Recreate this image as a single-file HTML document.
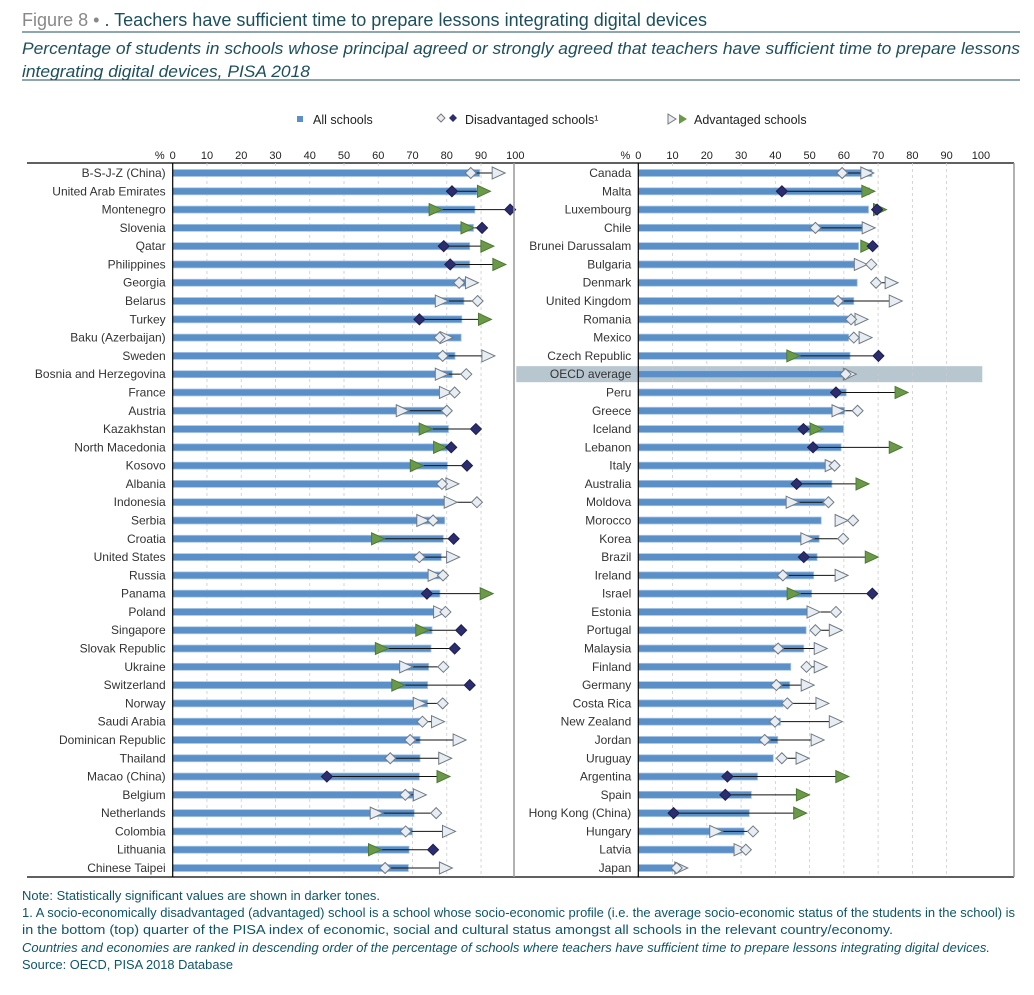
<!DOCTYPE html>
<html><head><meta charset="utf-8">
<style>
body{margin:0;background:#fff;width:1034px;height:990px;overflow:hidden;font-family:"Liberation Sans",sans-serif;}
svg text{font-family:"Liberation Sans",sans-serif;}
</style></head>
<body>
<svg id="chart" width="1034" height="990" xmlns="http://www.w3.org/2000/svg">
<text x="22" y="26" font-size="18" fill="#1d4f5c" textLength="685" lengthAdjust="spacingAndGlyphs"><tspan fill="#888">Figure 8 • </tspan>. Teachers have sufficient time to prepare lessons integrating digital devices</text>
<line x1="22" y1="32" x2="1020" y2="32" stroke="#1d4f5c" stroke-width="1"/>
<text x="22" y="54" font-size="17" font-style="italic" fill="#1d4f5c" textLength="998" lengthAdjust="spacingAndGlyphs">Percentage of students in schools whose principal agreed or strongly agreed that teachers have sufficient time to prepare lessons</text>
<text x="22" y="77" font-size="17" font-style="italic" fill="#1d4f5c" textLength="288" lengthAdjust="spacingAndGlyphs">integrating digital devices, PISA 2018</text>
<line x1="22" y1="80" x2="1020" y2="80" stroke="#1d4f5c" stroke-width="1"/>
<g font-size="12.5" fill="#222">
<rect x="297" y="116" width="6" height="6" fill="#5a8fc8"/>
<text x="313" y="124">All schools</text>
<path d="M441 114 l4 4 -4 4 -4 -4z" fill="#e8edf3" stroke="#777"/>
<path d="M453 114 l4 4 -4 4 -4 -4z" fill="#2b2d6e"/>
<text x="465" y="124">Disadvantaged schools¹</text>
<path d="M668 114 l8 5 -8 5z" fill="#e8edf3" stroke="#777"/>
<path d="M679 114 l8 5 -8 5z" fill="#6a9a48"/>
<text x="694" y="124">Advantaged schools</text>
</g>
<g id="plot"></g>
<g font-size="12.8" fill="#0f5566">
<text x="22" y="900" textLength="358" lengthAdjust="spacingAndGlyphs">Note: Statistically significant values are shown in darker tones.</text>
<text x="22" y="917" textLength="993" lengthAdjust="spacingAndGlyphs">1. A socio-economically disadvantaged (advantaged) school is a school whose socio-economic profile (i.e. the average socio-economic status of the students in the school) is</text>
<text x="22" y="934" textLength="871" lengthAdjust="spacingAndGlyphs">in the bottom (top) quarter of the PISA index of economic, social and cultural status amongst all schools in the relevant country/economy.</text>
<text x="22" y="952" font-style="italic" textLength="968" lengthAdjust="spacingAndGlyphs">Countries and economies are ranked in descending order of the percentage of schools where teachers have sufficient time to prepare lessons integrating digital devices.</text>
<text x="22" y="969" textLength="211" lengthAdjust="spacingAndGlyphs">Source: OECD, PISA 2018 Database</text>
</g>
</svg>
<script>
const leftCountries=["B-S-J-Z (China)","United Arab Emirates","Montenegro","Slovenia","Qatar","Philippines","Georgia","Belarus","Turkey","Baku (Azerbaijan)","Sweden","Bosnia and Herzegovina","France","Austria","Kazakhstan","North Macedonia","Kosovo","Albania","Indonesia","Serbia","Croatia","United States","Russia","Panama","Poland","Singapore","Slovak Republic","Ukraine","Switzerland","Norway","Saudi Arabia","Dominican Republic","Thailand","Macao (China)","Belgium","Netherlands","Colombia","Lithuania","Chinese Taipei"];
const leftAll=[89.6,88.8,88.2,87.8,86.7,86.7,85.7,85,84.4,84.2,82.4,81.6,78.4,79.7,80.5,80.2,80.2,79.3,79.6,79.4,79,78.4,78,78,77.3,75.7,75.4,74.7,74.4,74.4,72.2,72.2,72.2,72,70.8,70.5,70,69,68.8];
const leftDis=[87,81.5,98.5,90.3,79.1,81,83.6,89,72,77.9,78.8,85.7,82.3,80,88.5,81.3,85.9,78.6,88.8,76,82,72,78.9,74.2,79.6,84.2,82.3,79,86.7,78.8,72.9,69.3,63.5,45,67.9,76.9,68,76,62];
const leftAdv=[95,90.7,76.6,85.9,91.7,95.2,87.2,78.4,91,79.8,92,78.4,79.6,67,73.7,77.9,71.1,81.5,81,73,59.8,81.7,76.3,91.5,77.9,72.7,60.9,68,65.7,72,77.3,83.6,79.4,78.9,72,59.4,80.5,58.9,79.6];
const leftDisSig=[0,1,1,1,1,1,0,0,1,0,0,0,0,0,1,1,1,0,0,0,1,0,0,1,0,1,1,0,1,0,0,0,0,1,0,0,0,1,0];
const leftAdvSig=[0,1,1,1,1,1,0,0,1,0,0,0,0,0,1,1,1,0,0,0,1,0,0,1,0,1,1,0,1,0,0,0,0,1,0,0,0,1,0];
const rightCountries=["Canada","Malta","Luxembourg","Chile","Brunei Darussalam","Bulgaria","Denmark","United Kingdom","Romania","Mexico","Czech Republic","OECD average","Peru","Greece","Iceland","Lebanon","Italy","Australia","Moldova","Morocco","Korea","Brazil","Ireland","Israel","Estonia","Portugal","Malaysia","Finland","Germany","Costa Rica","New Zealand","Jordan","Uruguay","Argentina","Spain","Hong Kong (China)","Hungary","Latvia","Japan"];
const rightAll=[68.2,67.5,67.2,66,64.3,63.8,63.9,62.9,61.4,61.4,61.8,60.3,60.7,60.2,59.9,59.2,57.3,56.5,54.4,53.4,52.8,52.2,51.2,50.6,49.8,49,48.3,44.5,44.2,42.3,41.5,40.7,39.4,34.8,33,32.4,30.9,28.7,10.9];
const rightDis=[59.5,41.9,69.7,51.7,68.4,68,69.4,58.3,62.1,62.9,70.1,60.5,57.7,64,48.2,51,57.3,46.2,55.5,62.7,59.8,48.3,42.2,68.3,57.7,51.7,40.8,49.1,40.3,43.5,39.9,36.9,41.9,26,25.4,10.3,33.5,31.4,11.2];
const rightAdv=[66.7,67,70.4,67.1,66.7,64.8,73.8,75,65,66.2,45.1,61.6,76.7,58.3,51.9,75,56.3,65.3,44.9,59.2,49.2,68,59.2,45.2,51,57.5,53.1,53.1,49.3,53.6,57.5,52.2,47.8,59.4,47.9,47.1,22.6,29.7,12.4];
const rightDisSig=[0,1,1,0,1,0,0,0,0,0,1,0,1,0,1,1,0,1,0,0,0,1,0,1,0,0,0,0,0,0,0,0,0,1,1,1,0,0,0];
const rightAdvSig=[0,1,1,0,1,0,0,0,0,0,1,0,1,0,1,1,0,1,0,0,0,1,0,1,0,0,0,0,0,0,0,0,0,1,1,1,0,0,0];
const ticks=[0,10,20,30,40,50,60,70,80,90,100];

const NS="http://www.w3.org/2000/svg";
const plot=document.getElementById('plot');
const TOP=163,BOT=877,ROW0=173,PITCH=(868-173)/38;
function mk(tag,attrs,parent){const e=document.createElementNS(NS,tag);for(const k in attrs)e.setAttribute(k,attrs[k]);(parent||plot).appendChild(e);return e;}
function yPos(i){return ROW0+i*PITCH;}

function panel(x0,countries,all,dis,adv,disSig,advSig,side,frameL,frameR){
  const sc=v=>x0+v*3.426;
  const g=mk('g',{});
  
  
  mk('line',{x1:frameL,y1:TOP,x2:frameR,y2:TOP,stroke:'#000','stroke-width':1.2},g);
  mk('line',{x1:frameL,y1:BOT,x2:frameR,y2:BOT,stroke:'#000','stroke-width':1.2},g);
  countries.forEach((c,i)=>{
    if(c==="OECD average"){const r=mk('rect',{x:x0-122,y:yPos(i)-8,width:466,height:16,fill:'#b7c6cf'},g);
      
      }
  });
  ticks.forEach(t=>{
    if(t>0&&t<100) mk('line',{x1:sc(t),y1:TOP,x2:sc(t),y2:BOT,stroke:'#ccc','stroke-dasharray':'3,3','stroke-width':0.8},g);
    const tx=mk('text',{x:sc(t),y:159,'font-size':11,'text-anchor':'middle',fill:'#222'},g);
    tx.textContent=t;
    
    
  });
  const pc=mk('text',{x:sc(0)-8,y:159,'font-size':11,'text-anchor':'end',fill:'#222'},g);pc.textContent='%';
  countries.forEach((c,i)=>{
    const y=yPos(i);
    const lab=mk('text',{x:x0-7,y:y+4,'font-size':12,'text-anchor':'end',fill:'#333'},g);
    lab.textContent=c;
    
    
    const bar=mk('rect',{x:x0,y:y-3.5,width:sc(all[i])-x0,height:7,fill:'#5a8fc8',stroke:'#a9c6e6','stroke-width':0.8},g);
    
    
    const xd=sc(dis[i]),xa=sc(adv[i]);
    mk('line',{x1:xd,y1:y,x2:xa,y2:y,stroke:'#111','stroke-width':1},g);
    const tri=mk('path',{d:`M${xa-6} ${y-6} L${xa+7} ${y} L${xa-6} ${y+6}Z`,fill:advSig[i]?'#6a9a48':'#e8edf3',stroke:advSig[i]?'#4d7a35':'#707a84','stroke-width':1},g);
    
    
    const dm=mk('path',{d:`M${xd} ${y-5.5} L${xd+5.5} ${y} L${xd} ${y+5.5} L${xd-5.5} ${y}Z`,fill:disSig[i]?'#2b2d6e':'#e8edf3',stroke:disSig[i]?'#1d1f55':'#707a84','stroke-width':1},g);
    
    
  });
  mk('line',{x1:x0,y1:TOP,x2:x0,y2:BOT,stroke:'#000','stroke-width':1.2},g);
}
panel(172.7,leftCountries,leftAll,leftDis,leftAdv,leftDisSig,leftAdvSig,'left',27,514);
panel(638.3,rightCountries,rightAll,rightDis,rightAdv,rightDisSig,rightAdvSig,'right',514,1014);
mk('line',{x1:514,y1:TOP,x2:514,y2:BOT,stroke:'#999','stroke-width':1.5});
mk('line',{x1:1014,y1:TOP,x2:1014,y2:BOT,stroke:'#999','stroke-width':1.5});
</script>
</body></html>
